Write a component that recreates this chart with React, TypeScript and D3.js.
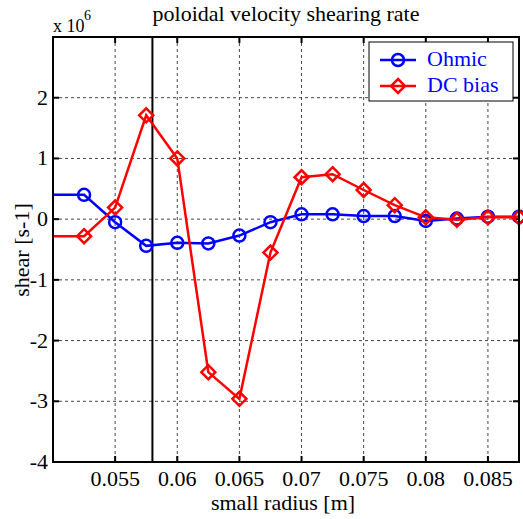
import React from "react";
import * as d3 from "d3";

const xLine = [0.05, 0.0525, 0.055, 0.0575, 0.06, 0.0625, 0.065, 0.0675, 0.07, 0.0725, 0.075, 0.0775, 0.08, 0.0825, 0.085, 0.0875];
const ohmic = [0.4, 0.4, -0.05, -0.44, -0.39, -0.4, -0.27, -0.05, 0.08, 0.08, 0.05, 0.05, -0.03, 0.01, 0.04, 0.04];
const dcBias = [-0.28, -0.28, 0.19, 1.71, 1.0, -2.52, -2.96, -0.55, 0.69, 0.74, 0.48, 0.23, 0.03, -0.01, 0.03, 0.03];
const xTicks = [0.055, 0.06, 0.065, 0.07, 0.075, 0.08, 0.085];
const yTicks = [-4, -3, -2, -1, 0, 1, 2];
const markerFrom = 1; // markers drawn from the second point on (first lies on the axis edge)
const vLineX = 0.058;

const W = 523, H = 519;
const L = 53, R = 519, T = 37, B = 462;

export default function App() {
  const x = d3.scaleLinear().domain([0.05, 0.0875]).range([L, R]);
  const y = d3.scaleLinear().domain([-4, 3]).range([B, T]);
  const line = d3.line<number>().x((_, i) => x(xLine[i])).y((v) => y(v));
  const fontStyle = { fontFamily: "Liberation Serif, Times New Roman, Times, DejaVu Serif, serif" };
  const diamond = (cx: number, cy: number, r: number) =>
    `M${cx},${cy - r}L${cx + r},${cy}L${cx},${cy + r}L${cx - r},${cy}Z`;
  const tl = 6;
  const fs = 22;
  return (
    <svg width={W} height={H} style={{ position: "absolute", left: 0, top: 0, background: "#fff" }}>
      <rect x={0} y={0} width={W} height={H} fill="#fff" />
      <defs>
        <clipPath id="plot">
          <rect x={L} y={T} width={R - L} height={B - T} />
        </clipPath>
      </defs>
      <g style={fontStyle}>
      {/* grid */}
      {xTicks.map((t) => (
        <line key={"gx" + t} x1={x(t)} x2={x(t)} y1={T} y2={B} stroke="#444" strokeWidth={1} strokeDasharray="3,3" />
      ))}
      {yTicks.map((t) => (
        <line key={"gy" + t} x1={L} x2={R} y1={y(t)} y2={y(t)} stroke="#444" strokeWidth={1} strokeDasharray="3,3" />
      ))}
      {/* ticks */}
      {xTicks.map((t) => (
        <g key={"tx" + t}>
          <line x1={x(t)} x2={x(t)} y1={B} y2={B - tl} stroke="#000" strokeWidth={2} />
          <line x1={x(t)} x2={x(t)} y1={T} y2={T + tl} stroke="#000" strokeWidth={2} />
          <text x={x(t)} y={486} fontSize={fs} textAnchor="middle">{String(t)}</text>
        </g>
      ))}
      {yTicks.map((t) => (
        <g key={"ty" + t}>
          <line x1={L} x2={L + tl} y1={y(t)} y2={y(t)} stroke="#000" strokeWidth={2} />
          <line x1={R} x2={R - tl} y1={y(t)} y2={y(t)} stroke="#000" strokeWidth={2} />
          <text x={L - 5} y={y(t) + 7} fontSize={fs} textAnchor="end">{String(t)}</text>
        </g>
      ))}
      {/* vertical marker line */}
      <line x1={x(vLineX)} x2={x(vLineX)} y1={T} y2={B} stroke="#000" strokeWidth={2} />
      {/* series */}
      <g clipPath="url(#plot)">
        <path d={line(ohmic) || ""} fill="none" stroke="#0000ff" strokeWidth={2.5} />
        <path d={line(dcBias) || ""} fill="none" stroke="#ff0000" strokeWidth={2.5} />
      </g>
      {ohmic.map((v, i) =>
        i >= markerFrom ? (
          <circle key={"o" + i} cx={x(xLine[i])} cy={y(v)} r={6} fill="none" stroke="#0000ff" strokeWidth={2.5} />
        ) : null
      )}
      {dcBias.map((v, i) =>
        i >= markerFrom ? (
          <path key={"d" + i} d={diamond(x(xLine[i]), y(v), 7)} fill="none" stroke="#ff0000" strokeWidth={2.5} />
        ) : null
      )}
      {/* axes box */}
      <rect x={L} y={T} width={R - L} height={B - T} fill="none" stroke="#000" strokeWidth={2} />
      {/* legend */}
      <rect x={369} y={42} width={144} height={59} fill="#fff" stroke="#000" strokeWidth={1} />
      <line x1={380} x2={416} y1={60} y2={60} stroke="#0000ff" strokeWidth={2.5} />
      <circle cx={398} cy={60} r={6} fill="none" stroke="#0000ff" strokeWidth={2.5} />
      <text x={427} y={66} fontSize={fs} fill="#0000ff">Ohmic</text>
      <line x1={380} x2={416} y1={86} y2={86} stroke="#ff0000" strokeWidth={2.5} />
      <path d={diamond(398, 86, 7)} fill="none" stroke="#ff0000" strokeWidth={2.5} />
      <text x={427} y={92} fontSize={fs} fill="#0000ff">DC bias</text>
      {/* titles */}
      <text x={286} y={21} fontSize={fs} textAnchor="middle">poloidal velocity shearing rate</text>
      <text x={53} y={32} fontSize={18}>x 10</text>
      <text x={84} y={20} fontSize={14}>6</text>
      <text x={283} y={510} fontSize={fs} textAnchor="middle">small radius [m]</text>
      <text transform={`translate(29,250) rotate(-90)`} fontSize={fs} textAnchor="middle">shear [s-1]</text>
      </g>
    </svg>
  );
}
